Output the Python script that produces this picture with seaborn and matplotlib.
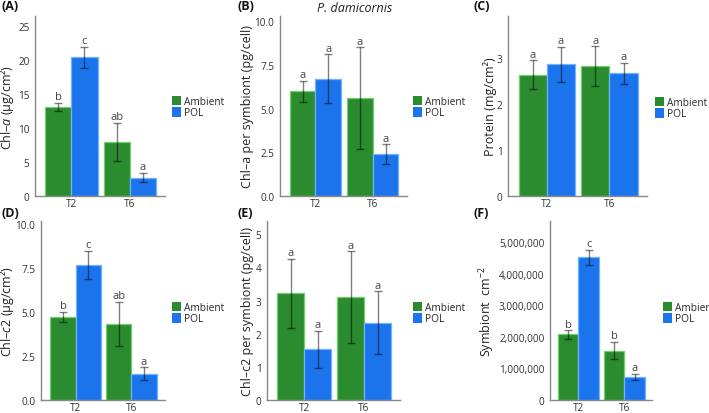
import pandas as pd
import numpy as np
import matplotlib
matplotlib.use("Agg")
import matplotlib.pyplot as plt
import seaborn as sns
from matplotlib.ticker import FuncFormatter
from matplotlib.container import BarContainer

times = ["T2", "T6"]
treatments = ["Ambient", "POL"]

# panel A: Chl-a per area
chla_amb = [13.1, 8.0]
chla_pol = [20.4, 2.7]
chla_amb_se = [0.6, 2.8]
chla_pol_se = [1.6, 0.7]
chla_letters = [["b", "ab"], ["c", "a"]]

# panel B: Chl-a per symbiont
chla_cell_amb = [6.0, 5.6]
chla_cell_pol = [6.7, 2.4]
chla_cell_amb_se = [0.6, 2.9]
chla_cell_pol_se = [1.4, 0.55]
chla_cell_letters = [["a", "a"], ["a", "a"]]

# panel C: protein
prot_amb = [2.63, 2.81]
prot_pol = [2.85, 2.66]
prot_amb_se = [0.31, 0.43]
prot_pol_se = [0.38, 0.23]
prot_letters = [["a", "a"], ["a", "a"]]

# panel D: Chl-c2 per area
chlc_amb = [4.72, 4.32]
chlc_pol = [7.68, 1.48]
chlc_amb_se = [0.28, 1.27]
chlc_pol_se = [0.8, 0.37]
chlc_letters = [["b", "ab"], ["c", "a"]]

# panel E: Chl-c2 per symbiont
chlc_cell_amb = [3.22, 3.1]
chlc_cell_pol = [1.53, 2.33]
chlc_cell_amb_se = [1.04, 1.38]
chlc_cell_pol_se = [0.55, 0.95]
chlc_cell_letters = [["a", "a"], ["a", "a"]]

# panel F: symbiont density
sym_amb = [2080000, 1570000]
sym_pol = [4530000, 730000]
sym_amb_se = [130000, 280000]
sym_pol_se = [235000, 100000]
sym_letters = [["b", "b"], ["c", "a"]]

green = "#2b8b2f"
blue = "#1b74ec"
green_edge = "#6fcf6a"
blue_edge = "#6fb2ff"

sns.set_style("white")
plt.rcParams["font.family"] = ["Open Sans", "DejaVu Sans"]
plt.rcParams["mathtext.fontset"] = "custom"
plt.rcParams["mathtext.rm"] = "Open Sans"
plt.rcParams["mathtext.it"] = "Open Sans:italic"

W, H = 709, 414
fig = plt.figure(figsize=(W / 100, H / 100), dpi=100)


def px_axes(left, right, top, bottom):
    return fig.add_axes([left / W, 1 - bottom / H, (right - left) / W, (bottom - top) / H])


def panel(box, amb, pol, amb_se, pol_se, letters, ylabel, ylim, yticks,
          leg_xy, label_x, fmt=None):
    ax = px_axes(*box)
    df = pd.DataFrame({
        "time": times * 2,
        "treatment": [treatments[0]] * 2 + [treatments[1]] * 2,
        "value": list(amb) + list(pol),
    })
    sns.barplot(data=df, x="time", y="value", hue="treatment", order=times,
                hue_order=treatments, palette=[green, blue], errorbar=None,
                width=0.9, gap=0, saturation=1, linewidth=0.9, ax=ax)
    errs = [amb_se, pol_se]
    vals = [amb, pol]
    edges = [green_edge, blue_edge]
    bar_conts = [c for c in ax.containers if isinstance(c, BarContainer)]
    for k, cont in enumerate(bar_conts):
        for j, bar in enumerate(cont.patches):
            bar.set_edgecolor(edges[k])
            x = bar.get_x() + bar.get_width() / 2
            ax.errorbar(x, vals[k][j], yerr=errs[k][j], fmt="none",
                        ecolor=(0, 0, 0, 0.5), elinewidth=1, capsize=3,
                        capthick=1)
            ax.annotate(letters[k][j], (x, vals[k][j] + errs[k][j]),
                        xytext=(0, 0.5), textcoords="offset points",
                        ha="center", va="bottom", fontsize=8, color="#444444")
    ax.set_xlim(-0.62, 1.6)
    ax.set_ylim(*ylim)
    ax.set_yticks(yticks)
    if fmt:
        ax.yaxis.set_major_formatter(FuncFormatter(fmt))
    ax.set_xlabel("")
    ax.set_ylabel(ylabel, fontsize=9, color="#222222")
    ax.yaxis.set_label_coords((label_x - box[0]) / (box[1] - box[0]), 0.5)
    sns.despine(ax=ax)
    for s in ["left", "bottom"]:
        ax.spines[s].set_color("#888888")
        ax.spines[s].set_linewidth(1)
    ax.tick_params(axis="y", labelsize=7.2, colors="#333333", length=3,
                   width=0.8, color="#888888", pad=1)
    ax.tick_params(axis="x", labelsize=7.2, colors="#333333", length=1.5,
                   width=0.8, color="#888888", pad=0.3)
    ax.legend(handles=ax.get_legend().legend_handles, labels=treatments,
              loc="center left", bbox_to_anchor=(leg_xy[0] / W, 1 - leg_xy[1] / H),
              bbox_transform=fig.transFigure, frameon=False, fontsize=7.3,
              handlelength=0.85, handleheight=1.05, handletextpad=0.3,
              labelspacing=0.05, borderpad=0, borderaxespad=0)
    for h in ax.get_legend().legend_handles:
        h.set_edgecolor("none")
    return ax


panel((35, 165, 17, 197), chla_amb, chla_pol, chla_amb_se, chla_pol_se,
      chla_letters, "Chl–$\\it{a}$ (µg/cm²)", (0, 26.5), [0, 5, 10, 15, 20, 25],
      (172, 108), 16)
panel((280, 407, 17, 197), chla_cell_amb, chla_cell_pol, chla_cell_amb_se,
      chla_cell_pol_se, chla_cell_letters, "Chl–a per symbiont (pg/cell)",
      (0, 10.3), [0, 2.5, 5, 7.5, 10], (413, 108), 254,
      fmt=lambda v, p: f"{v:.1f}")
panel((508, 647, 17, 197), prot_amb, prot_pol, prot_amb_se, prot_pol_se,
      prot_letters, "Protein (mg/cm²)", (0, 3.9), [0, 1, 2, 3], (655, 109), 497)
panel((41, 165, 222, 401), chlc_amb, chlc_pol, chlc_amb_se, chlc_pol_se,
      chlc_letters, "Chl–$\\it{c}$2 (µg/cm²)", (0, 10.17), [0, 2.5, 5, 7.5, 10],
      (172, 314), 16, fmt=lambda v, p: f"{v:.1f}")
panel((267, 400, 222, 401), chlc_cell_amb, chlc_cell_pol, chlc_cell_amb_se,
      chlc_cell_pol_se, chlc_cell_letters, "Chl–c2 per symbiont (pg/cell)",
      (0, 5.4), [0, 1, 2, 3, 4, 5], (413, 314), 254)
panel((550, 652, 222, 401), sym_amb, sym_pol, sym_amb_se, sym_pol_se,
      sym_letters, "Symbiont  cm$^{-2}$", (0, 5680000),
      [0, 1000000, 2000000, 3000000, 4000000, 5000000], (663, 314), 497,
      fmt=lambda v, p: f"{int(v):,}")

fig.text(355 / W, 1 - 8 / H, "P. damicornis", fontsize=9, style="italic",
         ha="center", va="center", color="#222222")
for lab, x, y in [("(A)", 1, 7), ("(B)", 237, 7), ("(C)", 474, 7),
                  ("(D)", 1, 214), ("(E)", 237, 214), ("(F)", 474, 214)]:
    fig.text(x / W, 1 - y / H, lab, fontsize=9, fontweight="bold",
             ha="left", va="center", color="#111111")

fig.savefig("out.png", dpi=100)
